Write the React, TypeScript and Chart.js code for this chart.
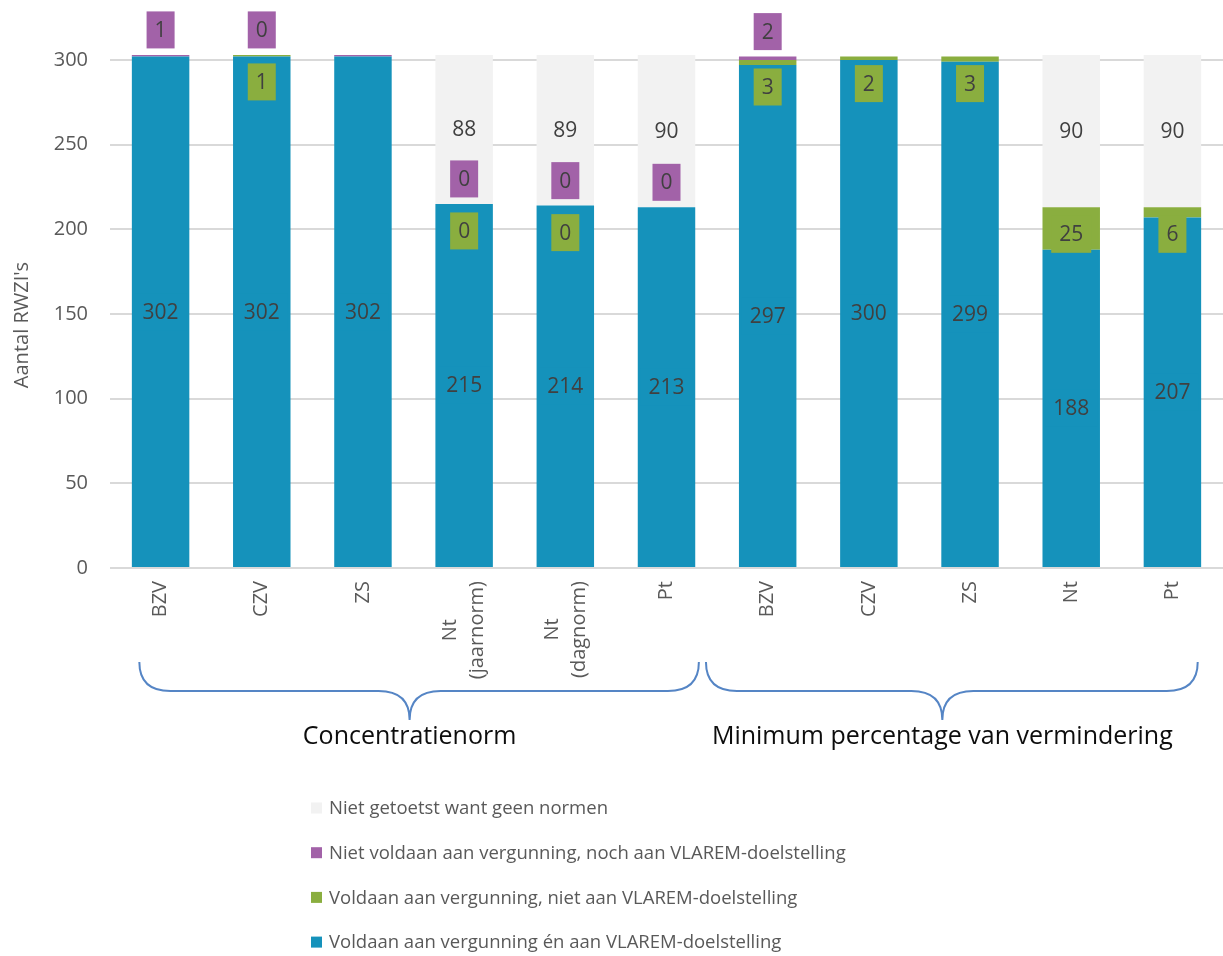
import React, { useEffect, useRef } from 'react';
import { Chart, registerables } from 'chart.js';

Chart.register(...registerables);

// Categories along the x axis (two norm groups)
const categories: (string | string[])[] = [
  'BZV', 'CZV', 'ZS', ['Nt', '(jaarnorm)'], ['Nt', '(dagnorm)'], 'Pt',
  'BZV', 'CZV', 'ZS', 'Nt', 'Pt',
];

// Series, stacked bottom to top
const compliantBoth = [302, 302, 302, 215, 214, 213, 297, 300, 299, 188, 207];
const permitOnly = [0, 1, 0, 0, 0, 0, 3, 2, 3, 25, 6];
const notCompliant = [1, 0, 1, 0, 0, 0, 2, 0, 0, 0, 0];
const notTested = [0, 0, 0, 88, 89, 90, 0, 0, 0, 90, 90];

// Which bars carry a value label
const compliantBothLabelled = [true, true, true, true, true, true, true, true, true, true, true];
const permitOnlyLabelled = [false, true, false, true, true, false, true, true, true, true, true];
const notCompliantLabelled = [true, true, false, true, true, true, true, false, false, false, false];
const notTestedLabelled = [false, false, false, true, true, true, false, false, false, true, true];

const seriesNames = [
  'Voldaan aan vergunning én aan VLAREM-doelstelling',
  'Voldaan aan vergunning, niet aan VLAREM-doelstelling',
  'Niet voldaan aan vergunning, noch aan VLAREM-doelstelling',
  'Niet getoetst want geen normen',
];
const seriesColors = ['#1592BB', '#8AAE3F', '#A262A8', '#F2F2F2'];

const yTicks = [0, 50, 100, 150, 200, 250, 300];
const yTitle = "Aantal RWZI's";

// Category groups shown under the axis with a brace
const groupNames = ['Concentratienorm', 'Minimum percentage van vermindering'];
const groupFirst = [0, 6];
const groupLast = [5, 10];

const FONT = '"Open Sans", "DejaVu Sans", sans-serif';
const TEXT = '#595959';
const LABEL_TEXT = '#404040';

const zeroPadding = (s: any) => {
  s.paddingTop = 0;
  s.paddingBottom = 0;
  s.paddingLeft = 0;
  s.paddingRight = 0;
};

const overlay = {
  id: 'overlay',
  afterDatasetsDraw(chart: any) {
    const ctx: CanvasRenderingContext2D = chart.ctx;
    ctx.save();
    ctx.font = `21px ${FONT}`;
    ctx.textAlign = 'center';
    ctx.textBaseline = 'middle';
    chart.data.datasets.forEach((ds: any, di: number) => {
      const meta = chart.getDatasetMeta(di);
      meta.data.forEach((el: any, i: number) => {
        if (!ds.labelled[i]) return;
        const v = ds.data[i];
        let y: number;
        if (ds.labelPos === 'center') y = (el.y + el.base) / 2;
        else if (ds.labelPos === 'insideEnd') y = el.y + 27;
        else y = el.y - 25;
        const txt = String(v);
        const w = ctx.measureText(txt).width + 16;
        ctx.fillStyle = ds.backgroundColor;
        ctx.fillRect(el.x - w / 2, y - 18.5, w, 37);
        ctx.fillStyle = LABEL_TEXT;
        ctx.fillText(txt, el.x, y + 1);
      });
    });
    ctx.restore();
  },
  afterDraw(chart: any) {
    const ctx: CanvasRenderingContext2D = chart.ctx;
    const xs = chart.scales.x;
    const area = chart.chartArea;
    ctx.save();

    // x tick labels, rotated
    ctx.font = `20px ${FONT}`;
    ctx.fillStyle = TEXT;
    ctx.textBaseline = 'middle';
    const top = area.bottom + 13;
    chart.data.labels.forEach((lab: any, i: number) => {
      const px = xs.getPixelForValue(i);
      const lines: string[] = Array.isArray(lab) ? lab : [lab];
      const maxW = Math.max(...lines.map((l) => ctx.measureText(l).width));
      const lh = 27;
      lines.forEach((line, k) => {
        const cx = px + (k - (lines.length - 1) / 2) * lh;
        ctx.save();
        ctx.translate(cx, top + maxW / 2);
        ctx.rotate(-Math.PI / 2);
        ctx.textAlign = 'center';
        ctx.fillText(line, 0, 0);
        ctx.restore();
      });
    });

    // y axis title
    ctx.save();
    ctx.translate(22, 325);
    ctx.rotate(-Math.PI / 2);
    ctx.textAlign = 'center';
    ctx.font = `20px ${FONT}`;
    ctx.fillText(yTitle, 0, 0);
    ctx.restore();

    // group braces and names
    const step = xs.getPixelForValue(1) - xs.getPixelForValue(0);
    const yTop = area.bottom + 94;
    const yMid = yTop + 29;
    const yTip = yTop + 58;
    ctx.strokeStyle = '#5585C5';
    ctx.lineWidth = 2;
    groupNames.forEach((name, g) => {
      const x0 = g === 0 ? xs.getPixelForValue(groupFirst[g]) - 0.21 * step : xs.getPixelForValue(groupFirst[g]) - 0.61 * step;
      const x1 = g === 0 ? xs.getPixelForValue(groupLast[g]) + 0.32 * step : xs.getPixelForValue(groupLast[g]) + 0.25 * step;
      const tip = (x0 + x1) / 2 - 9.5;
      const r = 31;
      ctx.beginPath();
      ctx.moveTo(x0, yTop);
      ctx.quadraticCurveTo(x0, yMid, x0 + r, yMid);
      ctx.lineTo(tip - r, yMid);
      ctx.quadraticCurveTo(tip, yMid, tip, yTip);
      ctx.quadraticCurveTo(tip, yMid, tip + r, yMid);
      ctx.lineTo(x1 - r, yMid);
      ctx.quadraticCurveTo(x1, yMid, x1, yTop);
      ctx.stroke();

      ctx.fillStyle = '#0D0D0D';
      ctx.font = `25px ${FONT}`;
      ctx.textAlign = 'center';
      ctx.fillText(name, tip, yTip + 17);
    });

    // legend, top-most series first
    ctx.font = `18.5px ${FONT}`;
    ctx.textAlign = 'left';
    const order = [3, 2, 1, 0];
    order.forEach((di, row) => {
      const ds = chart.data.datasets[di];
      const cy = 808 + row * 44.7;
      ctx.fillStyle = ds.backgroundColor;
      ctx.fillRect(311, cy - 5.5, 11, 11);
      ctx.fillStyle = TEXT;
      ctx.fillText(ds.label, 329, cy + 1);
    });

    ctx.restore();
  },
};

export default function App() {
  const ref = useRef<HTMLCanvasElement | null>(null);

  useEffect(() => {
    if (!ref.current) return;
    const values = [compliantBoth, permitOnly, notCompliant, notTested];
    const labelled = [compliantBothLabelled, permitOnlyLabelled, notCompliantLabelled, notTestedLabelled];
    const positions = ['center', 'insideEnd', 'outsideEnd', 'center'];
    const chart = new Chart(ref.current, {
      type: 'bar',
      data: {
        labels: categories as any,
        datasets: values.map((d, i) => ({
          label: seriesNames[i],
          data: d,
          backgroundColor: seriesColors[i],
          borderWidth: 0,
          barPercentage: 0.568,
          categoryPercentage: 1,
          labelled: labelled[i],
          labelPos: positions[i],
        })) as any,
      },
      options: {
        responsive: false,
        animation: false,
        layout: { padding: 0 },
        plugins: { legend: { display: false }, tooltip: { enabled: false } },
        scales: {
          x: {
            stacked: true,
            grid: { display: false },
            border: { display: false },
            ticks: { display: false },
            afterFit: (s: any) => { s.height = 388; zeroPadding(s); },
          },
          y: {
            stacked: true,
            min: 0,
            max: 335.43,
            border: { display: false },
            grid: { color: '#D9D9D9', lineWidth: 2, drawTicks: false },
            ticks: {
              padding: 22,
              color: TEXT,
              font: { family: FONT, size: 20 },
            },
            afterBuildTicks: (s: any) => { s.ticks = yTicks.map((v) => ({ value: v })); },
            afterFit: (s: any) => { s.width = 110; zeroPadding(s); },
          },
        },
      },
      plugins: [overlay],
    });
    return () => chart.destroy();
  }, []);

  return (
    <div style={{ position: 'absolute', left: 0, top: 0, width: 1223, height: 956, background: '#fff' }}>
      <canvas ref={ref} width={1223} height={956} />
    </div>
  );
}
